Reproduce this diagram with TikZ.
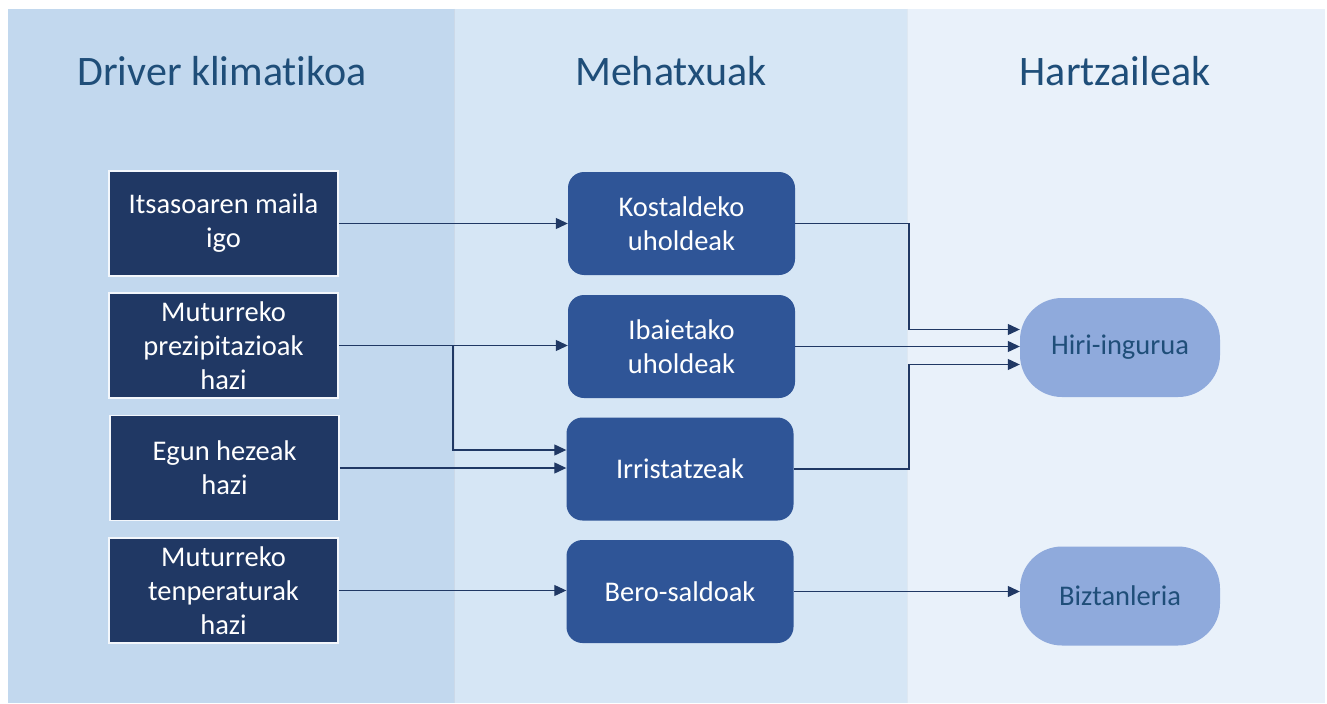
\documentclass[tikz,border=0pt]{standalone}
\usepackage{fontspec}
\setmainfont{Carlito}[Ligatures=NoCommon]
\usetikzlibrary{arrows.meta}
\definecolor{colA}{HTML}{C2D8EE}
\definecolor{colB}{HTML}{D6E6F5}
\definecolor{colC}{HTML}{E9F1FA}
\definecolor{titleblue}{HTML}{1F4E79}
\definecolor{navy}{HTML}{203864}
\definecolor{midblue}{HTML}{2F5597}
\definecolor{lightblue}{HTML}{8FAADC}
\tikzset{
  title/.style={text=titleblue,font=\fontsize{42}{48}\selectfont,anchor=base},
  driver/.style={fill=navy,draw=white!80!colA,line width=1.5pt,minimum width=229pt,minimum height=105pt,
    text=white,align=center,font=\fontsize{28.5}{34}\selectfont,inner sep=0pt},
  threat/.style={fill=midblue,rounded corners=16pt,minimum width=227pt,minimum height=103pt,
    text=white,align=center,font=\fontsize{28.5}{34}\selectfont,inner sep=0pt},
  receiver/.style={fill=lightblue,rounded corners=42pt,minimum width=200pt,minimum height=99pt,
    text=titleblue,font=\fontsize{28.5}{34}\selectfont,inner sep=0pt},
  arr/.style={draw=navy,line width=1.2pt,-{Triangle[length=12pt,width=11pt]}}
}
\begin{document}
\begin{tikzpicture}[x=1pt,y=-1pt]
	\fill[white] (0,0) rectangle (1327,703);
	\fill[colA] (8,9) rectangle (454,703);
	\fill[colB] (454,9) rectangle (907,703);
	\fill[colC] (907,9) rectangle (1325,703);
	\draw[colA!85!navy!60,line width=1pt] (454,9) -- (454,703);
	\draw[colB!92!navy!60,line width=1pt] (907,9) -- (907,703);
	\node[title] (t1) at (222,86) {Driver klimatikoa};
	\node[title] (t2) at (671,86) {Mehatxuak};
	\node[title] (t3) at (1115,86) {Hartzaileak};
	\node[driver] (d1) at (223.5,223.5) {Itsasoaren maila\\igo};
	\node[driver] (d2) at (223.5,345.5) {Muturreko\\prezipitazioak\\hazi};
	\node[driver] (d3) at (224.5,468) {Egun hezeak\\hazi};
	\node[driver] (d4) at (223.5,590.5) {Muturreko\\tenperaturak\\hazi};
	\node[threat] (m1) at (681.5,223.5) {Kostaldeko\\uholdeak};
	\node[threat] (m2) at (681.5,346.5) {Ibaietako\\uholdeak};
	\node[threat] (m3) at (680,469) {Irristatzeak};
	\node[threat] (m4) at (680,591.5) {Bero-saldoak};
	\node[receiver] (h1) at (1120,347.5) {Hiri-ingurua};
	\node[receiver] (h2) at (1120,596) {Biztanleria};
	\coordinate (jl) at (453,0);
	\coordinate (jr) at (909,0);
	\draw[arr] (d1.east) -- (m1.west);
	\draw[arr] (d2.east) -- (d2.east -| m2.west);
	\draw[arr] (d2.east -| jl) |- ([yshift=19pt]m3.west);
	\draw[arr] (d3.east) -- (d3.east -| m3.west);
	\draw[arr] (d4.east) -- (d4.east -| m4.west);
	\draw[arr] (m1.east) -- (m1.east -| jr) |- ([yshift=18pt]h1.west);
	\draw[arr] (m2.east) -- (m2.east -| h1.west);
	\draw[arr] (m3.east) -- (m3.east -| jr) |- ([yshift=-17pt]h1.west);
	\draw[arr] (m4.east) -- (m4.east -| h2.west);
\end{tikzpicture}
\end{document}
